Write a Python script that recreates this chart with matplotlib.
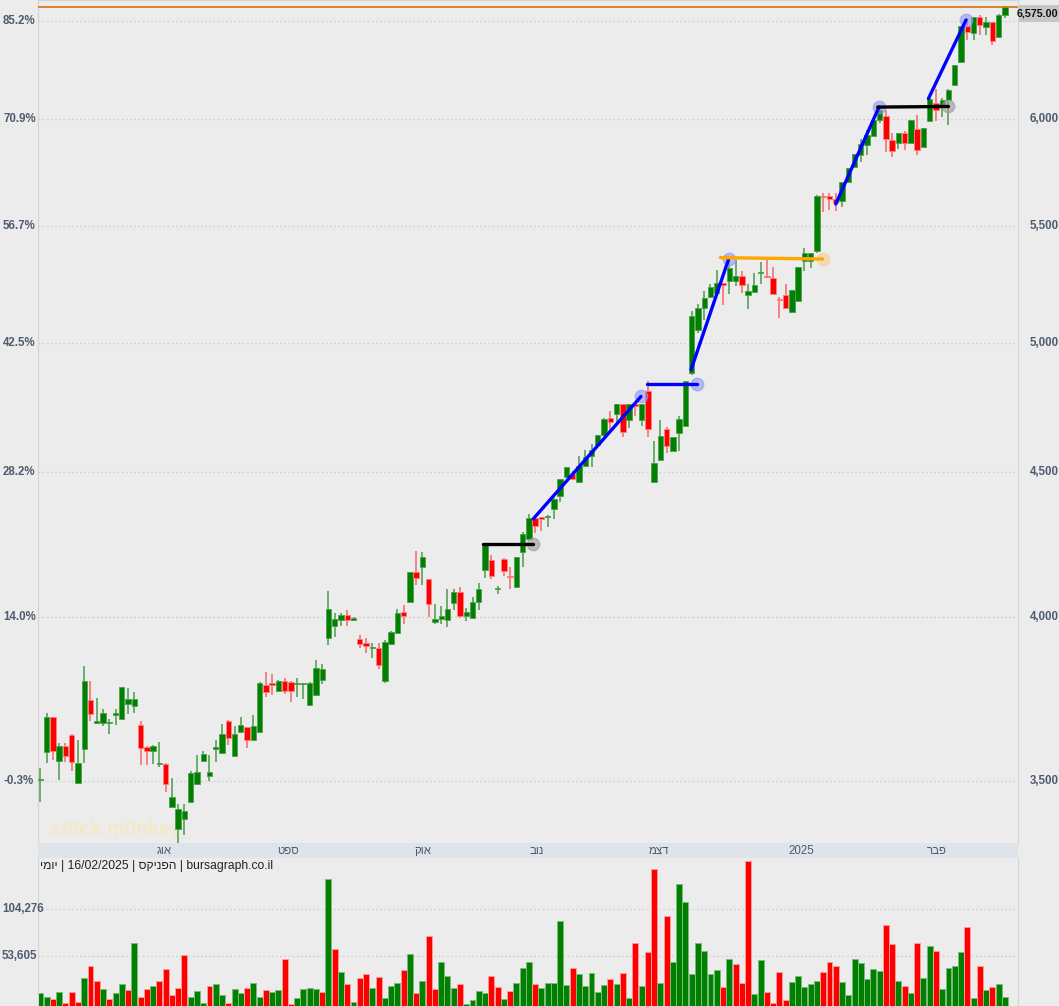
import numpy as np
import matplotlib
matplotlib.use('Agg')
import matplotlib.pyplot as plt
from matplotlib.transforms import blended_transform_factory
from matplotlib.patches import Rectangle

plt.rcParams['font.family'] = ['Liberation Sans', 'DejaVu Sans']

# daily OHLC (155 sessions, mid Jul 2024 -> 16/02/2025)
opens = [3502, 3583, 3686, 3556, 3601, 3633, 3494, 3592, 3738, 3668,
         3670, 3668, 3693, 3681, 3727, 3719, 3662, 3598, 3586, 3547,
         3547, 3427, 3364, 3393, 3439, 3491, 3556, 3514, 3593, 3580,
         3676, 3571, 3643, 3656, 3617, 3641, 3784, 3790, 3766, 3796,
         3793, 3787, 3787, 3724, 3752, 3799, 3932, 3970, 3989, 4007,
         3989, 3927, 3915, 3900, 3900, 3796, 3912, 3949, 4017, 4048,
         4148, 4167, 4124, 3983, 3993, 3989, 4044, 4080, 4004, 3995,
         4047, 4156, 4190, 4091, 4193, 4135, 4098, 4215, 4260, 4334,
         4337, 4337, 4366, 4415, 4484, 4495, 4463, 4521, 4559, 4600,
         4638, 4704, 4717, 4757, 4694, 4757, 4697, 4808, 4463, 4543,
         4661, 4578, 4647, 4674, 4880, 5052, 5142, 5188, 5206, 5249,
         5260, 5258, 5279, 5200, 5213, 5293, 5279, 5271, 5181, 5198,
         5127, 5174, 5344, 5344, 5387, 5637, 5637, 5621, 5614, 5700,
         5770, 5824, 5875, 5917, 5995, 6015, 5899, 5882, 5930, 5883,
         5949, 5866, 5992, 6078, 6058, 6095, 6170, 6286, 6470, 6436,
         6520, 6466, 6491, 6416, 6532]
highs = [3536, 3698, 3688, 3609, 3609, 3637, 3619, 3844, 3796, 3744,
         3710, 3681, 3710, 3779, 3774, 3762, 3676, 3600, 3602, 3613,
         3550, 3508, 3434, 3435, 3528, 3574, 3586, 3574, 3619, 3666,
         3678, 3659, 3688, 3658, 3693, 3792, 3823, 3818, 3798, 3806,
         3795, 3805, 3791, 3792, 3861, 3848, 4086, 4013, 4013, 4021,
         4000, 3942, 3930, 3915, 3915, 3925, 3955, 4024, 4040, 4148,
         4221, 4217, 4125, 4041, 4036, 4091, 4091, 4098, 4029, 4064,
         4110, 4248, 4207, 4102, 4195, 4166, 4201, 4286, 4348, 4336,
         4339, 4345, 4405, 4476, 4520, 4504, 4559, 4582, 4604, 4640,
         4701, 4728, 4758, 4758, 4758, 4758, 4758, 4847, 4614, 4697,
         4670, 4630, 4712, 4848, 5130, 5160, 5217, 5246, 5306, 5251,
         5347, 5347, 5303, 5246, 5293, 5342, 5347, 5319, 5190, 5246,
         5221, 5320, 5400, 5379, 5638, 5650, 5650, 5650, 5701, 5767,
         5830, 5902, 5944, 5996, 6062, 6045, 5933, 5931, 5941, 5996,
         6020, 5958, 6101, 6148, 6103, 6146, 6271, 6471, 6512, 6521,
         6528, 6520, 6492, 6537, 6576]
lows = [3439, 3550, 3559, 3501, 3554, 3528, 3492, 3550, 3676, 3666,
        3661, 3637, 3662, 3680, 3696, 3699, 3544, 3544, 3549, 3539,
        3467, 3426, 3325, 3348, 3438, 3488, 3554, 3500, 3554, 3579,
        3602, 3570, 3642, 3596, 3616, 3640, 3747, 3753, 3765, 3755,
        3732, 3747, 3742, 3722, 3751, 3787, 3909, 3935, 3970, 3970,
        3985, 3899, 3884, 3869, 3832, 3790, 3910, 3948, 3978, 4047,
        4104, 4104, 3998, 3978, 3978, 3967, 4023, 3996, 3986, 3994,
        4021, 4127, 4124, 4076, 4136, 4093, 4097, 4167, 4259, 4281,
        4290, 4304, 4331, 4392, 4483, 4470, 4462, 4519, 4519, 4598,
        4633, 4655, 4677, 4630, 4664, 4712, 4674, 4629, 4462, 4542,
        4569, 4577, 4578, 4673, 4870, 5040, 5095, 5185, 5205, 5155,
        5202, 5237, 5205, 5141, 5212, 5246, 5270, 5202, 5103, 5141,
        5124, 5173, 5303, 5315, 5380, 5560, 5570, 5565, 5584, 5699,
        5769, 5793, 5824, 5916, 5980, 5840, 5816, 5855, 5852, 5882,
        5828, 5865, 5991, 5992, 6008, 5969, 6169, 6285, 6398, 6398,
        6423, 6423, 6370, 6415, 6512]
closes = [3503, 3686, 3586, 3601, 3571, 3554, 3552, 3796, 3696, 3674,
          3698, 3669, 3698, 3777, 3741, 3741, 3596, 3586, 3601, 3548,
          3492, 3454, 3420, 3414, 3522, 3525, 3577, 3525, 3598, 3637,
          3624, 3635, 3662, 3617, 3659, 3790, 3763, 3784, 3796, 3765,
          3765, 3790, 3790, 3790, 3838, 3835, 4024, 3993, 4007, 3989,
          3996, 3912, 3905, 3901, 3845, 3918, 3950, 4013, 4004, 4148,
          4130, 4200, 4041, 3993, 4001, 4024, 4083, 4004, 4014, 4048,
          4093, 4247, 4136, 4092, 4151, 4132, 4200, 4279, 4334, 4308,
          4333, 4338, 4404, 4475, 4519, 4475, 4523, 4557, 4581, 4638,
          4700, 4687, 4757, 4650, 4757, 4748, 4757, 4660, 4533, 4633,
          4595, 4629, 4700, 4847, 5110, 5142, 5185, 5231, 5249, 5243,
          5315, 5279, 5243, 5216, 5241, 5294, 5273, 5203, 5177, 5142,
          5220, 5319, 5378, 5378, 5637, 5629, 5621, 5603, 5700, 5766,
          5829, 5877, 5921, 5995, 6045, 5902, 5847, 5930, 5883, 5995,
          5852, 5957, 6100, 6042, 6095, 6145, 6270, 6470, 6441, 6520,
          6478, 6491, 6391, 6528, 6575]

# volume in thousands, colour = close vs previous close (G up / R down)
volumes_k = [15.0, 10.0, 7.9, 16.0, 4.4, 16.0, 5.4, 30.2, 43.7, 27.7,
             18.5, 7.9, 14.3, 24.6, 17.5, 67.4, 10.0, 18.5, 21.7, 27.0,
             39.8, 12.2, 19.6, 54.7, 10.0, 17.1, 4.4, 21.7, 23.8, 12.2,
             4.4, 18.5, 14.3, 19.6, 25.6, 10.0, 17.5, 16.0, 17.5, 51.1,
             3.3, 9.0, 18.5, 19.6, 18.5, 16.0, 135.5, 61.8, 36.6, 23.8,
             5.4, 30.2, 34.5, 19.6, 31.3, 9.0, 21.7, 24.9, 38.7, 55.7,
             15.0, 27.0, 74.9, 18.5, 47.2, 32.3, 19.6, 23.8, 3.3, 6.8,
             16.4, 15.0, 32.3, 20.7, 7.9, 16.4, 25.6, 40.9, 47.2, 23.8,
             19.6, 24.9, 24.9, 90.8, 22.8, 40.9, 34.5, 21.7, 35.5, 15.3,
             22.8, 29.2, 23.8, 35.5, 9.0, 67.4, 21.7, 57.9, 146.8, 25.6,
             96.1, 47.2, 130.1, 111.0, 34.5, 67.4, 58.9, 34.5, 38.7, 20.7,
             50.4, 45.1, 24.9, 155.3, 13.2, 49.4, 15.3, 4.4, 36.6, 7.5,
             26.0, 32.3, 20.7, 23.8, 27.0, 36.6, 47.2, 43.0, 26.0, 12.2,
             50.4, 46.2, 29.2, 39.8, 37.7, 86.6, 66.4, 27.0, 21.7, 14.3,
             67.4, 30.2, 64.2, 58.9, 18.5, 40.9, 43.0, 57.9, 84.4, 9.0,
             43.0, 17.5, 20.7, 23.8, 10.0]
vol_dir = ("GGRGRRRGRR" "GRGGRGRRGR" "RRRRGGGRGG" "RGGRGGRGGR" "RGGGGRGRGR"
           "GRRGRGGGRG" "RGRRGGGRGG" "GGRRGRGGGR" "GGGGGRGGGG" "GRGRGRGRRG"
           "RGGGGGGGGR" "GRRRGGRRRR" "GGGGGRRRGG" "GGGGGRRGRG" "RGGRGGGGRG"
           "RGRGG")

base_price = 3510          # 0% reference of the left scale
price_grid = [3500, 4000, 4500, 5000, 5500, 6000, 6500]
vol_ticks = [53605, 104276]

month_labels = ['אוג', 'ספט', 'אוק', 'נוב', 'דצמ', '2025', 'פבר']
month_pos = [19.7, 39.5, 61.1, 79.3, 98.8, 121.5, 143.2]

# drawn trend lines: (x0, price0, x1, price1, colour)
trend_lines = [
    (70.7, 4245, 78.7, 4245, 'black'),
    (78.7, 4332, 95.9, 4786, 'blue'),
    (96.8, 4835, 104.8, 4835, 'blue'),
    (103.9, 4892, 109.9, 5353, 'blue'),
    (108.6, 5359, 124.9, 5353, 'orange'),
    (127.0, 5598, 133.9, 6058, 'blue'),
    (133.7, 6058, 145.0, 6061, 'black'),
    (141.8, 6100, 147.8, 6503, 'blue'),
]
line_style = {'blue': ('#0000ff', '#8f98f2'),
              'black': ('#000000', '#9a9a9a'),
              'orange': ('#ffa500', '#f7cf8c')}

caption = 'יומי | 16/02/2025 | הפניקס | bursagraph.co.il'


def visual(s):
    # matplotlib has no bidi: reverse each hebrew word so it reads right
    out = []
    for w in s.split(' '):
        out.append(w[::-1] if any('\u0590' <= ch <= '\u05ff' for ch in w) else w)
    return ' '.join(out)


W, H = 1059, 1006
BG = '#ececec'
LBL = '#4f5b6e'
fig = plt.figure(figsize=(W / 100, H / 100), dpi=100, facecolor=BG)


def px_box(x0, y0, x1, y1):
    return [x0 / W, 1 - y1 / H, (x1 - x0) / W, (y1 - y0) / H]


ax = fig.add_axes(px_box(38, 0, 1018, 843))
axd = fig.add_axes(px_box(38, 843, 1018, 858))
axv = fig.add_axes(px_box(38, 858, 1018, 1006))

n = len(closes)
idx = np.arange(n)
o = np.array(opens, float)
c = np.array(closes, float)
hi = np.array(highs, float)
lo = np.array(lows, float)
up = c >= o

xlim = (-0.38, 156.1)

# ---- price panel
ax.set_facecolor(BG)
ax.set_yscale('log')
ax.set_ylim(3327, 6610)
ax.set_xlim(*xlim)
ax.tick_params(which='both', left=False, right=False, bottom=False, top=False,
               labelleft=False, labelbottom=False)
ax.spines['bottom'].set_visible(False)
for s in ['left', 'right', 'top']:
    ax.spines[s].set_color('#d4d4d4')

for p in price_grid:
    ax.axhline(p, color='#d0d0d0', lw=1, ls=(0, (1.2, 1.8)), zorder=0)

body_lo = np.minimum(o, c)
body_hi = np.maximum(np.maximum(o, c), body_lo * 1.0009)
face = np.where(up, '#008000', '#ff0000')
edge = np.where(up, '#4f9f4f', '#ff8080')
wick = np.where(up, '#62a862', '#f47a7a')
ax.vlines(idx, lo, hi, colors=wick, lw=1.3, zorder=2)
ax.bar(idx, body_hi - body_lo, bottom=body_lo, width=0.86, color=face,
       edgecolor=edge, linewidth=0.6, zorder=3)

# last price line
ax.axhline(closes[-1], color='#d4720b', lw=1.2, zorder=4)

# trend lines with end markers
for x0, p0, x1, p1, name in trend_lines:
    lc, mc = line_style[name]
    ax.plot([x0, x1], [p0, p1], color=lc, lw=2.4, solid_capstyle='round', zorder=6)
    ax.plot([x1], [p1], 'o', ms=9, mfc=mc, mec=mc, alpha=0.6, zorder=5)

trans = blended_transform_factory(fig.transFigure, ax.transData)
for p in price_grid:
    ax.text(3 / W, p, f'{(p / base_price - 1) * 100:.1f}%', transform=trans,
            ha='left', va='center', fontsize=8.3, fontweight='bold', color=LBL)
    if p < closes[-1] - 150:   # the top level sits under the last-price tag
        ax.text(1030 / W, p, f'{p:,}', transform=trans, ha='left', va='center',
                fontsize=8.3, fontweight='bold', color=LBL)

# last price tag
fig.patches.append(Rectangle((1019 / W, 1 - 22 / H), 40 / W, 17 / H,
                             transform=fig.transFigure, facecolor='#c6c6c6',
                             edgecolor='none', zorder=10))
fig.text(1037.5 / W, 1 - 13.5 / H, f'{closes[-1]:,.2f}', ha='center', va='center',
         fontsize=7.7, fontweight='bold', color='#111111', zorder=11)

# watermark
ax.text(12 / 980, 0.009, 'st0ck m0nkey', transform=ax.transAxes,
        fontsize=14.5, fontweight='bold', color='#f4e9c2', alpha=0.9, zorder=1)

# ---- date strip
axd.set_facecolor('#dfe3ea')
axd.set_xlim(*xlim)
axd.set_ylim(0, 1)
axd.set_xticks([])
axd.set_yticks([])
for s in axd.spines.values():
    s.set_visible(False)
for lab, pos in zip(month_labels, month_pos):
    axd.text(pos, 0.45, visual(lab), ha='center', va='center', fontsize=8.3,
             color='#505a6a')

# ---- volume panel
vol = np.array(volumes_k) * 1000
vcol = ['#008000' if d == 'G' else '#ff0000' for d in vol_dir]
vedge = ['#7dbb7d' if d == 'G' else '#ff9a9a' for d in vol_dir]
axv.set_facecolor(BG)
axv.set_xlim(*xlim)
axv.set_ylim(776, 158100)
axv.tick_params(which='both', left=False, bottom=False, labelleft=False,
                labelbottom=False)
axv.spines['top'].set_visible(False)
axv.spines['bottom'].set_visible(False)
for s in ['left', 'right']:
    axv.spines[s].set_color('#d4d4d4')
for v in vol_ticks:
    axv.axhline(v, color='#d0d0d0', lw=1, ls=(0, (1.2, 1.8)), zorder=0)
axv.bar(idx, vol, width=0.95, color=vcol, edgecolor=vedge, linewidth=0.7, zorder=2)

vtrans = blended_transform_factory(fig.transFigure, axv.transData)
for v in vol_ticks:
    axv.text(2 / W, v, f'{v:,}', transform=vtrans, ha='left', va='center',
             fontsize=8.3, fontweight='bold', color=LBL)

axv.text(40 / W, 1 - 866 / H, visual(caption), transform=fig.transFigure,
         ha='left', va='center', fontsize=8.7, color='#222222')

fig.savefig('out.png', dpi=100, facecolor=BG)
